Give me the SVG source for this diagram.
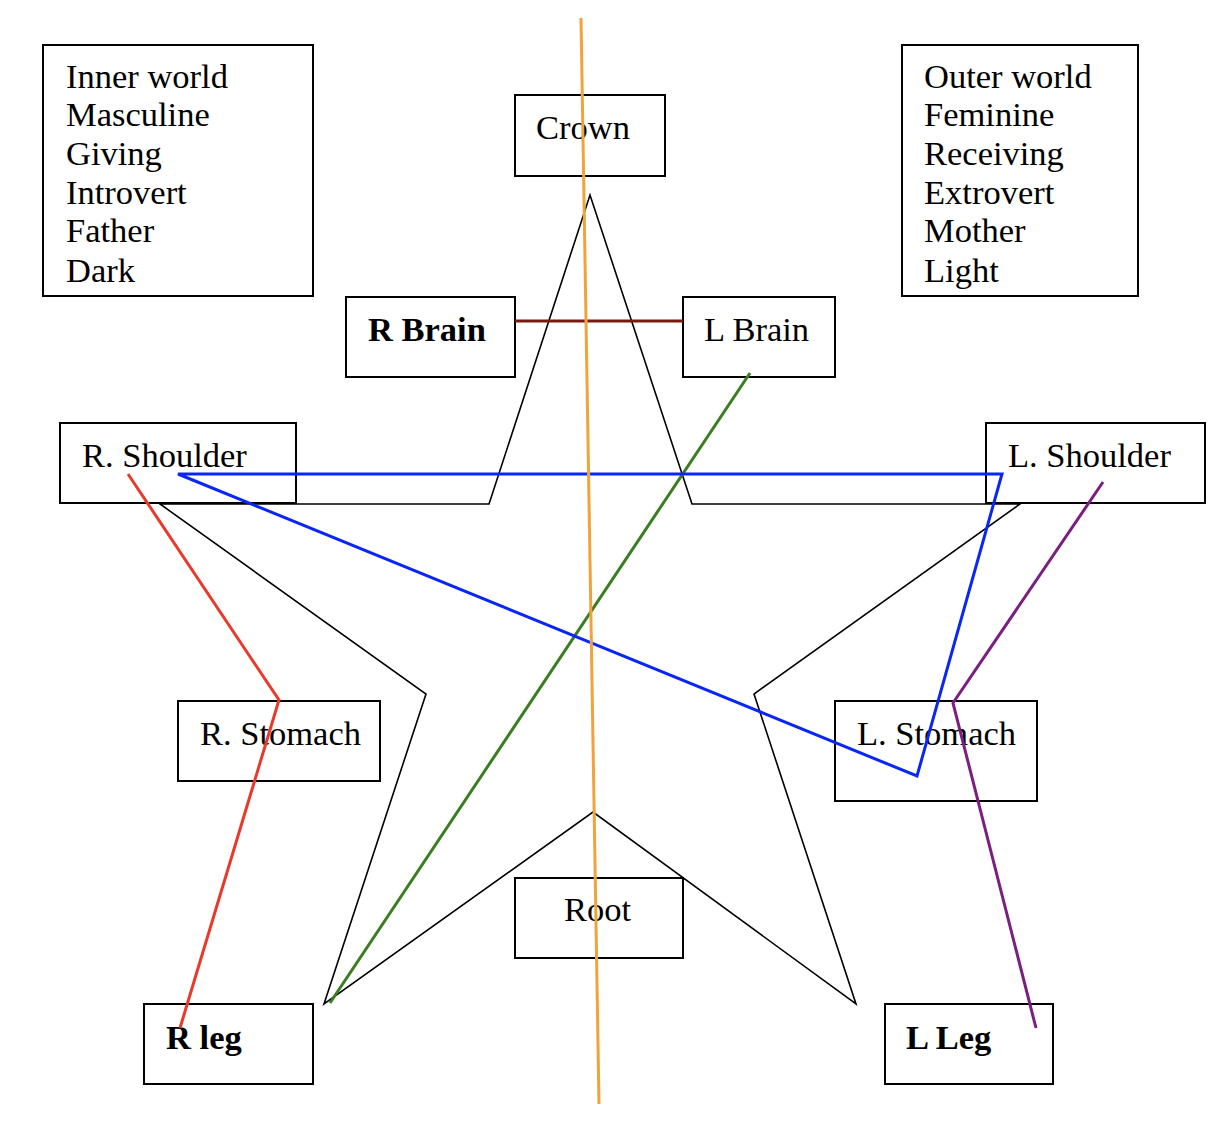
<svg xmlns="http://www.w3.org/2000/svg" width="1230" height="1140" viewBox="0 0 1230 1140">
<style>
.box{fill:#fff;stroke:#000;stroke-width:2}
.t{font-family:"Liberation Serif","Times New Roman",serif;font-size:34.5px;fill:#000}
.b{font-weight:bold}
.star{fill:none;stroke:#000;stroke-width:1.6;stroke-linejoin:miter}
.c{fill:none;stroke-width:3;stroke-linecap:butt;stroke-linejoin:miter}
</style>
<rect width="1230" height="1140" fill="#fff"/>
<g id="star">
<polygon class="star" points="590,195 489,504 160,504 426,694 324,1004 593,812 856,1004 754,694 1020,504 692,504"/>
</g>
<g id="inner-world"><rect class="box" x="43" y="45" width="270" height="251"/>
<text class="t" x="66" y="88">Inner world</text>
<text class="t" x="66" y="126">Masculine</text>
<text class="t" x="66" y="165">Giving</text>
<text class="t" x="66" y="204">Introvert</text>
<text class="t" x="66" y="242">Father</text>
<text class="t" x="66" y="282">Dark</text></g>
<g id="outer-world"><rect class="box" x="902" y="45" width="236" height="251"/>
<text class="t" x="924" y="88">Outer world</text>
<text class="t" x="924" y="126">Feminine</text>
<text class="t" x="924" y="165">Receiving</text>
<text class="t" x="924" y="204">Extrovert</text>
<text class="t" x="924" y="242">Mother</text>
<text class="t" x="924" y="282">Light</text></g>
<g id="crown"><rect class="box" x="515" y="95" width="150" height="81" fill="none"/><text class="t" x="536" y="139">Crown</text></g>
<g id="r-brain"><rect class="box" x="346" y="297" width="169" height="80"/><text class="t b" x="368" y="341">R Brain</text></g>
<g id="l-brain"><rect class="box" x="683" y="297" width="152" height="80"/><text class="t" x="704" y="341">L Brain</text></g>
<g id="r-shoulder"><rect class="box" x="60" y="423" width="236" height="80" style="fill:none"/><text class="t" x="82" y="467">R. Shoulder</text></g>
<g id="l-shoulder"><rect class="box" x="986" y="423" width="219" height="80" style="fill:none"/><text class="t" x="1008" y="467">L. Shoulder</text></g>
<g id="r-stomach"><rect class="box" x="178" y="701" width="202" height="80"/><text class="t" x="200" y="745">R. Stomach</text></g>
<g id="l-stomach"><rect class="box" x="835" y="701" width="202" height="100"/><text class="t" x="857" y="745">L. Stomach</text></g>
<g id="root"><rect class="box" x="515" y="878" width="168" height="80" style="fill:none"/><text class="t" x="564" y="921">Root</text></g>
<g id="r-leg"><rect class="box" x="144" y="1004" width="169" height="80"/><text class="t b" x="166" y="1049">R leg</text></g>
<g id="l-leg"><rect class="box" x="885" y="1004" width="168" height="80"/><text class="t b" x="906" y="1049">L Leg</text></g>
<g id="connectors">
<line class="c" x1="515" y1="321" x2="683" y2="321" stroke="#781a12"/>
<line class="c" x1="750" y1="373" x2="330" y2="1003" stroke="#3a7d22"/>
<polygon class="c" points="178,474 1002,474 917,776" stroke="#0a26f5"/>
<polyline class="c" points="128,474 279,700 180,1028" stroke="#e8392a"/>
<polyline class="c" points="1103,482 953,703 1036,1028" stroke="#7a1e82"/>
<line class="c" x1="581" y1="18" x2="599" y2="1104" stroke="#f2a23a"/>
</g>
</svg>
